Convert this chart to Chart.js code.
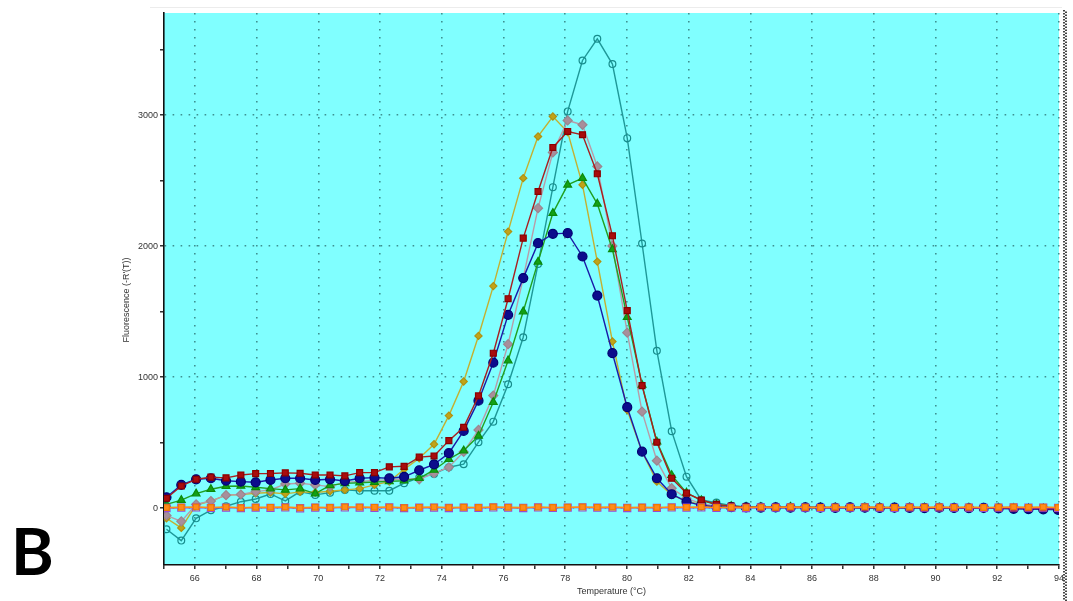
<!DOCTYPE html>
<html>
<head>
<meta charset="utf-8">
<script src="https://cdn.jsdelivr.net/npm/chart.js@4.4.1/dist/chart.umd.min.js"></script>
<style>
  html, body { margin: 0; padding: 0; background: #ffffff; }
  #wrap { position: relative; width: 1073px; height: 601px; }
  canvas { display: block; }
</style>
</head>
<body>
<div id="wrap"><canvas id="melt" width="1073" height="601"></canvas></div>
<script>
// Melt curve: temperature readings (°C)
const temps = [65.08,65.56,66.04,66.52,67.01,67.49,67.97,68.45,68.93,69.41,
  69.90,70.38,70.86,71.34,71.82,72.30,72.78,73.27,73.75,74.23,
  74.71,75.19,75.67,76.15,76.64,77.12,77.60,78.08,78.56,79.04,
  79.53,80.01,80.49,80.97,81.45,81.93,82.41,82.90,83.38,83.86,
  84.34,84.82,85.30,85.78,86.27,86.75,87.23,87.71,88.19,88.67,
  89.16,89.64,90.12,90.60,91.08,91.56,92.04,92.53,93.01,93.49,93.97];

// -R'(T) for each well
const wellBlue = [84,178,221,229,210,203,198,216,229,229,216,221,208,229,234,229,240,290,335,420,
  590,821,1111,1476,1756,2023,2094,2099,1921,1623,1183,771,432,229,107,50,22,12,8,6,
  5,6,4,7,5,3,6,4,2,5,3,1,4,2,0,3,-2,-4,-6,-8,-12];
const wellRed = [76,170,221,237,232,254,264,265,270,267,254,254,247,272,272,316,320,390,399,516,
  618,857,1183,1599,2061,2417,2753,2875,2850,2552,2079,1508,936,504,229,115,63,30,16,10,
  8,9,7,8,6,5,7,6,4,6,5,3,5,4,2,4,2,1,0,-2,-4];
const wellGreen = [30,62,112,145,168,170,160,150,140,150,112,175,190,195,200,205,210,229,292,374,
  440,552,809,1127,1501,1880,2252,2468,2519,2323,1975,1458,941,508,252,118,60,28,15,10,
  8,7,9,6,7,5,6,4,6,5,3,4,2,5,3,1,2,0,-1,-3,-5];
const wellGray = [-55,-100,30,55,100,105,127,140,185,191,178,165,200,203,215,216,225,221,267,313,
  430,598,860,1252,1756,2290,2715,2959,2926,2608,2002,1340,737,363,153,76,35,16,10,8,
  7,8,6,7,5,6,5,4,6,3,5,4,3,2,4,1,2,0,-2,-3,-5];
const wellOlive = [-76,-150,25,55,100,105,115,120,110,125,120,130,140,150,178,203,297,382,488,707,
  967,1315,1695,2111,2519,2837,2989,2870,2468,1882,1272,750,432,203,102,55,25,12,9,7,
  8,6,7,5,6,4,6,5,3,5,4,2,4,3,1,3,1,-1,-2,-4,-6];
const wellTeal = [-160,-247,-77,-15,15,50,71,109,56,127,102,119,140,134,134,134,191,234,262,313,
  336,504,661,946,1305,1863,2450,3028,3417,3582,3389,2824,2020,1201,588,241,63,43,20,10,
  6,5,7,4,6,5,3,5,4,2,4,3,1,3,2,0,1,-1,-3,-4,-6];
const wellOrange = [5,8,10,6,9,4,8,7,9,3,8,6,10,9,7,9,4,7,9,5,
  8,6,10,7,5,9,6,8,10,7,9,5,8,6,9,7,10,6,8,5,
  9,7,10,8,6,9,7,10,8,6,9,8,10,7,9,6,8,10,7,9,6];
const wellPurple = [2,4,6,3,5,1,5,3,6,0,4,3,6,5,3,6,1,4,5,2,
  5,3,6,4,2,6,3,5,6,4,5,2,5,3,6,4,6,3,5,2,
  6,4,6,5,3,5,4,6,5,3,6,5,6,4,5,3,5,6,4,5,3];

// Axis ticks
const xTickMarks = [65,66,67,68,69,70,71,72,73,74,75,76,77,78,79,80,81,82,83,84,85,86,87,88,89,90,91,92,93,94];
const xTickLabels = [66,68,70,72,74,76,78,80,82,84,86,88,90,92,94];
const yTickMarks = [0,500,1000,1500,2000,2500,3000,3500];
const yTickLabels = [0,1000,2000,3000];

const pts = vals => temps.map((t, i) => ({ x: t, y: vals[i] }));

function well(vals, line, fill, edge, style, radius, order, width) {
  return {
    data: pts(vals),
    borderColor: line,
    borderWidth: width || 1.4,
    pointStyle: style,
    pointRadius: radius,
    pointBackgroundColor: fill,
    pointBorderColor: edge,
    pointBorderWidth: 1.2,
    tension: 0,
    order: order
  };
}

const datasets = [
  well(wellOrange, '#ff8c1a', '#ff8c1a', '#f07a00', 'rect', 4, 0, 1.6),
  well(wellPurple, '#9a4ad0', 'rgba(0,0,0,0)', '#9a4ad0', 'rect', 5, 1, 1.4),
  well(wellRed, '#a82020', '#a80c0c', '#8a0000', 'rect', 4.2, 2),
  well(wellBlue, '#1a1aa8', '#0c0c8c', '#000070', 'circle', 4.5, 3),
  well(wellGreen, '#20a020', '#14a014', '#0a8a0a', 'triangle', 4.5, 4),
  well(wellGray, '#b89ca8', '#a88f9b', '#9a8690', 'rectRot', 4.5, 5),
  well(wellOlive, '#c4b030', '#c0a418', '#b09010', 'rectRot', 3.6, 6),
  well(wellTeal, '#1e9898', 'rgba(0,0,0,0)', '#168c8c', 'circle', 3.4, 7)
];

const frame = {
  id: 'frame',
  beforeDraw(chart) {
    const { ctx, chartArea: a } = chart;
    ctx.save();
    ctx.fillStyle = '#80ffff';
    ctx.fillRect(a.left, a.top, a.right - a.left, a.bottom - a.top);
    // faint rule above the plot
    ctx.strokeStyle = '#ececec';
    ctx.lineWidth = 1;
    ctx.beginPath();
    ctx.moveTo(150, 7.5);
    ctx.lineTo(1062, 7.5);
    ctx.stroke();
    ctx.restore();
  },
  afterDraw(chart) {
    const { ctx, chartArea: a } = chart;
    ctx.save();
    ctx.fillStyle = '#333';
    ctx.font = '9px "Liberation Sans", Arial, sans-serif';
    ctx.textAlign = 'center';
    ctx.textBaseline = 'middle';
    ctx.fillText('Temperature (°C)', (a.left + a.right) / 2, 592);
    ctx.translate(127, 300);
    ctx.rotate(-Math.PI / 2);
    ctx.fillText("Fluorescence (-R'(T))", 0, 0);
    ctx.restore();

    // dotted selection edge on the right
    ctx.save();
    ctx.lineWidth = 2;
    ctx.strokeStyle = '#444';
    ctx.setLineDash([1.5, 1.5]);
    ctx.beginPath();
    ctx.moveTo(1064, 10);
    ctx.lineTo(1064, 601);
    ctx.stroke();
    ctx.lineDashOffset = 1.5;
    ctx.beginPath();
    ctx.moveTo(1066, 10);
    ctx.lineTo(1066, 601);
    ctx.stroke();
    ctx.restore();

    // panel letter
    ctx.save();
    ctx.fillStyle = '#000';
    ctx.font = 'bold 65px Lato, "Open Sans", sans-serif';
    ctx.textAlign = 'left';
    ctx.textBaseline = 'alphabetic';
    ctx.fillText('B', 11, 575);
    ctx.restore();
  }
};

new Chart(document.getElementById('melt'), {
  type: 'line',
  data: { datasets },
  plugins: [frame],
  options: {
    responsive: false,
    animation: false,
    devicePixelRatio: 1,
    layout: { padding: { top: 13, right: 14, bottom: 0, left: 0 } },
    plugins: { legend: { display: false }, tooltip: { enabled: false } },
    elements: { line: { fill: false } },
    scales: {
      x: {
        type: 'linear',
        min: 65,
        max: 94,
        afterFit: s => { s.height = 36; },
        afterBuildTicks: s => { s.ticks = xTickMarks.map(v => ({ value: v })); },
        ticks: {
          autoSkip: false,
          maxRotation: 0,
          padding: 4,
          color: '#333',
          font: { family: '"Liberation Sans", Arial, sans-serif', size: 9 },
          callback: v => xTickLabels.includes(v) ? String(v) : ''
        },
        grid: {
          color: c => (c.tick && xTickLabels.includes(c.tick.value)) ? 'rgba(50,125,125,0.85)' : 'rgba(0,0,0,0)',
          lineWidth: 1.6,
          tickColor: '#111',
          tickLength: 4,
          tickWidth: 1.3
        },
        border: { display: true, color: '#111', width: 1.6, dash: [1.6, 6.4] }
      },
      y: {
        type: 'linear',
        min: -433,
        max: 3779,
        afterFit: s => { s.width = 164; },
        afterBuildTicks: s => { s.ticks = yTickMarks.map(v => ({ value: v })); },
        ticks: {
          autoSkip: false,
          padding: 2,
          color: '#333',
          font: { family: '"Liberation Sans", Arial, sans-serif', size: 9 },
          callback: v => yTickLabels.includes(v) ? String(v) : ''
        },
        grid: {
          color: c => (c.tick && yTickLabels.includes(c.tick.value)) ? 'rgba(50,125,125,0.85)' : 'rgba(0,0,0,0)',
          lineWidth: 1.6,
          tickColor: '#111',
          tickLength: 4,
          tickWidth: 1.3
        },
        border: { display: true, color: '#111', width: 1.6, dash: [1.6, 6.4] }
      }
    }
  }
});
</script>
</body>
</html>
